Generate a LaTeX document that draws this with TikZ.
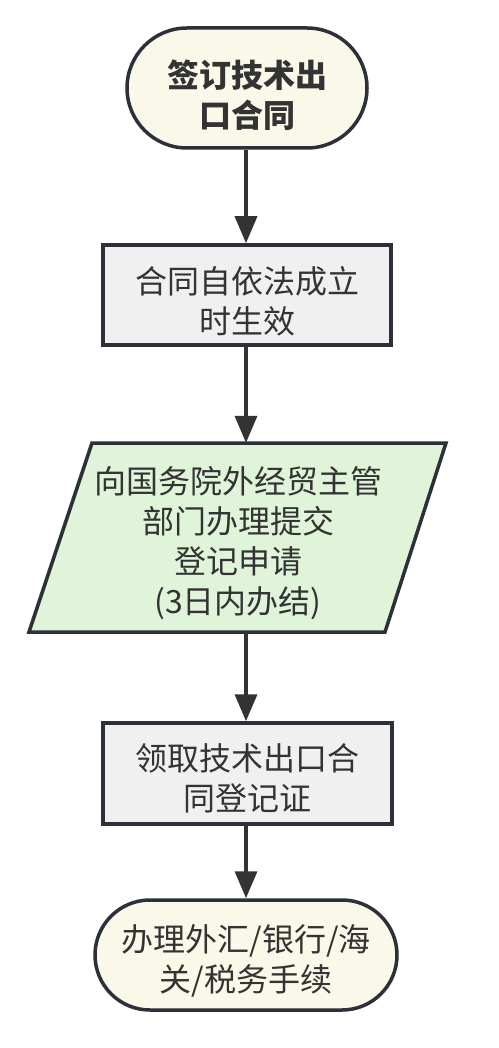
\documentclass[tikz,border=0pt]{standalone}
\usepackage{fontspec}
\setmainfont{Noto Sans CJK SC}
\usetikzlibrary{arrows.meta}
\definecolor{edge}{HTML}{2C3038}
\definecolor{txt}{HTML}{333333}
\definecolor{cream}{HTML}{FAF8E8}
\definecolor{grayfill}{HTML}{F0F0F0}
\definecolor{greenfill}{HTML}{E0F4DA}
\begin{document}
\begin{tikzpicture}[x=1pt,y=1pt,
  base/.style={draw=edge, line width=3.5pt, inner sep=0pt},
  label text/.style={text=txt, align=center, inner sep=0pt, font=\fontsize{32}{40}\selectfont},
  term/.style={base, fill=cream},
  procbox/.style={base, fill=grayfill, minimum width=288pt, minimum height=100pt},
  conn/.style={draw=txt, line width=3.5pt, -{Triangle[length=27pt,width=22pt]}}
]
\useasboundingbox[fill=white] (0,0) rectangle (498,-1048);

\node[term, minimum width=240pt, minimum height=120pt, rounded corners=60pt] (start) at (247,-88) {};
\node[label text] (startT) at ([yshift=-7pt]start.center) {\bfseries 签订技术出\\\bfseries 口合同};

\node[procbox] (valid) at (247,-295) {};
\node[label text] (validT) at ([yshift=-6pt]valid.center) {合同自依法成立\\时生效};

\path[draw=edge, line width=3.5pt, fill=greenfill, line join=miter]
  (92,-443) -- (446,-443) -- (385,-632) -- (29,-632) -- cycle;
\node[inner sep=0pt, minimum width=290pt, minimum height=189pt] (apply) at (238,-537.5) {};
\node[label text] (applyT) at ([yshift=-6pt]apply.center)
  {向国务院外经贸主管\\部门办理提交\\登记申请\\(3日内办结)};

\node[procbox, minimum width=289pt, minimum height=101pt] (cert) at (247.5,-773.5) {};
\node[label text] (certT) at ([yshift=-5pt]cert.center) {领取技术出口合\\同登记证};

\node[term, minimum width=302pt, minimum height=110pt, rounded corners=55pt] (finish) at (246,-955) {};
\node[label text] (finishT) at ([yshift=-6pt]finish.center) {办理外汇/银行/海\\关/税务手续};

\draw[conn] (start.south -| 246,0) -- (valid.north -| 246,0);
\draw[conn] (valid.south -| 246,0) -- (apply.north -| 246,0);
\draw[conn] (apply.south -| 246,0) -- (cert.north -| 246,0);
\draw[conn] (cert.south -| 246,0) -- (finish.north -| 246,0);
\end{tikzpicture}
\end{document}
